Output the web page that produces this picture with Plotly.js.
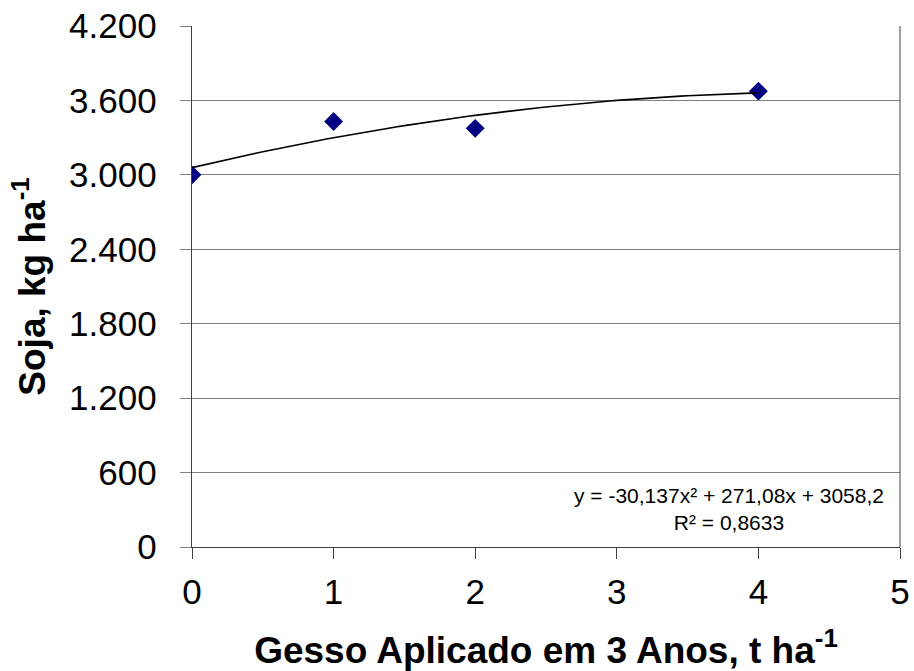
<!DOCTYPE html>
<html>
<head>
<meta charset="utf-8">
<script src="https://cdn.plot.ly/plotly-3.0.1.min.js"></script>
<style>
  html, body { margin: 0; padding: 0; background: #ffffff; }
  #chart { width: 914px; height: 671px; }
</style>
</head>
<body>
<div id="chart"></div>
<script>
// ---- data ----
const gessoDoses = [0, 1, 2, 4];              // t ha-1
const sojaYield = [3000, 3430, 3375, 3675];   // kg ha-1
// displayed trendline: y = -30,137x² + 271,08x + 3058,2
const trendCoef = [-30.137, 271.08, 3058.2];  // a, b, c
const trendRange = [0, 4];
const yTickVals = [0, 600, 1200, 1800, 2400, 3000, 3600, 4200];
const yTickText = ['0', '600', '1.200', '1.800', '2.400', '3.000', '3.600', '4.200'];
const xTickVals = [0, 1, 2, 3, 4, 5];
const xTickText = ['0', '1', '2', '3', '4', '5'];
const eqText = 'y = -30,137x² + 271,08x + 3058,2<br>R² = 0,8633';

// trendline curve evaluated from the displayed equation
const trendX = [];
const trendY = [];
const nSteps = 80;
for (let i = 0; i <= nSteps; i++) {
  const x = trendRange[0] + (trendRange[1] - trendRange[0]) * i / nSteps;
  trendX.push(x);
  trendY.push(trendCoef[0] * x * x + trendCoef[1] * x + trendCoef[2]);
}

const FONT = 'Liberation Sans, Arial, sans-serif';

const traces = [
  {
    x: gessoDoses, y: sojaYield,
    type: 'scatter', mode: 'markers',
    marker: { symbol: 'diamond', size: 14.5, color: '#000080', line: { width: 0 } },
    showlegend: false, hoverinfo: 'x+y'
  },
  {
    x: trendX, y: trendY,
    type: 'scatter', mode: 'lines',
    line: { color: '#000000', width: 1.6 },
    showlegend: false, hoverinfo: 'skip'
  }
];

const layout = {
  width: 914, height: 671,
  margin: { l: 192, r: 14, t: 26, b: 124, pad: 0 },
  paper_bgcolor: '#ffffff', plot_bgcolor: '#ffffff',
  font: { family: FONT, color: '#000000' },
  showlegend: false,
  xaxis: {
    range: [0, 5], tickvals: xTickVals, ticktext: xTickText,
    showgrid: false, zeroline: false,
    showline: true, linecolor: '#404040', linewidth: 1.3,
    ticks: 'outside', ticklen: 11, tickcolor: '#404040', tickwidth: 1,
    tickfont: { family: FONT, size: 35, color: '#000000' },
    ticklabelstandoff: 3,
    title: { text: '<b>Gesso Aplicado em 3 Anos, t ha<sup>-1</sup></b>', font: { family: FONT, size: 37, color: '#000000' }, standoff: 28 },
    fixedrange: true
  },
  yaxis: {
    range: [0, 4200], tickvals: yTickVals, ticktext: yTickText,
    showgrid: true, gridcolor: '#808080', gridwidth: 1,
    zeroline: false,
    showline: true, linecolor: '#404040', linewidth: 1.3,
    ticks: 'outside', ticklen: 11, tickcolor: '#808080', tickwidth: 1,
    tickfont: { family: FONT, size: 35, color: '#000000' },
    ticklabelstandoff: 16,
    title: { text: '<b>Soja, kg ha<sup>-1</sup></b>', font: { family: FONT, size: 37, color: '#000000' }, standoff: 12 },
    fixedrange: true
  },
  shapes: [
    { type: 'line', xref: 'paper', yref: 'paper', x0: 1, x1: 1, y0: 0, y1: 1,
      line: { color: '#808080', width: 1.5 } }
  ],
  annotations: [
    { xref: 'paper', yref: 'paper', x: 0.7586, y: 0.0724,
      xanchor: 'center', yanchor: 'middle', showarrow: false, align: 'center',
      text: eqText, font: { family: FONT, size: 21, color: '#000000' } }
  ]
};

Plotly.newPlot('chart', traces, layout, { displayModeBar: false, staticPlot: true });
</script>
</body>
</html>
